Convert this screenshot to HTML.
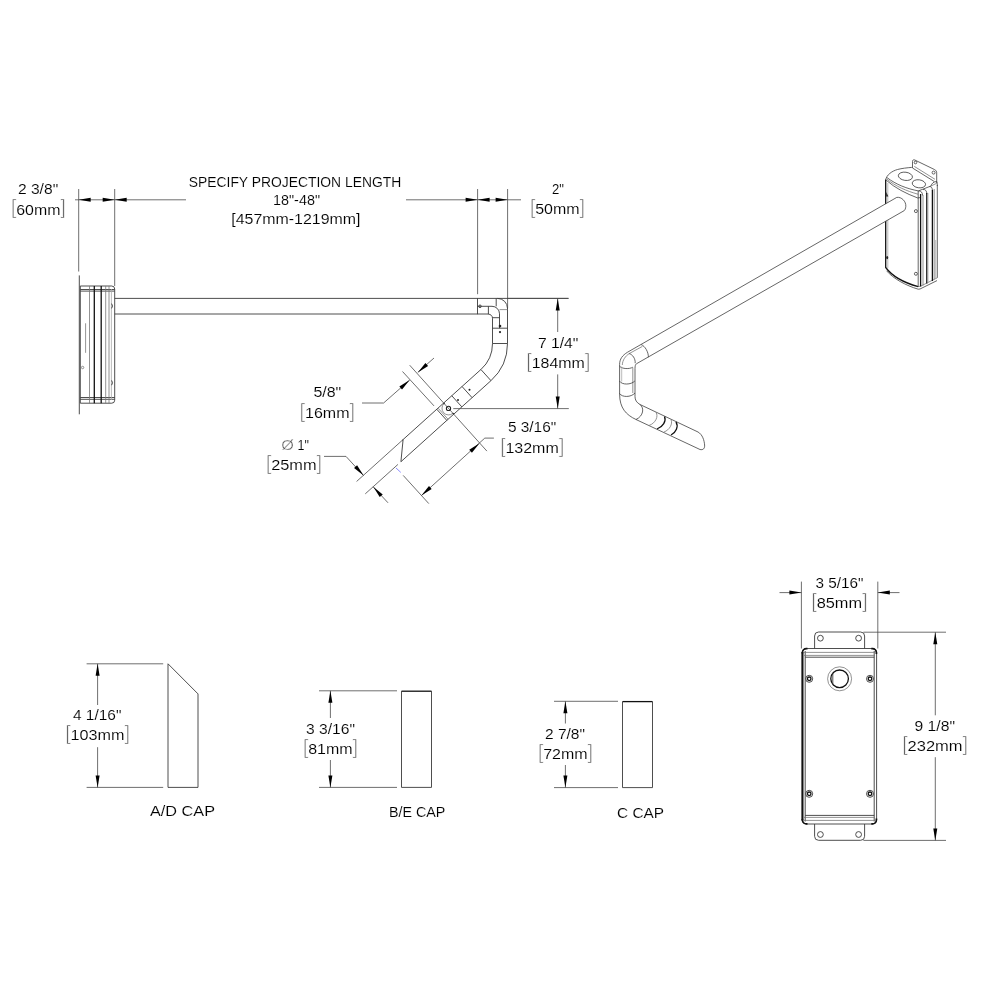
<!DOCTYPE html>
<html><head><meta charset="utf-8"><title>Drawing</title>
<style>
html,body{margin:0;padding:0;background:#fff;}
svg{display:block;will-change:transform}
.t{font-family:"Liberation Sans",sans-serif;fill:#000;stroke:#fff;stroke-width:.12}
.b{font-family:"Liberation Sans",sans-serif;fill:#555;stroke:#fff;stroke-width:.7}
.d{stroke:#4a4a4a;stroke-width:.8;fill:none}
.o{stroke:#3a3a3a;stroke-width:.9;fill:none}
.io{stroke:#333;stroke-width:.75;fill:none}
.iof{stroke:#333;stroke-width:.75;fill:#fff}
.g{stroke:#777;stroke-width:.8;fill:none}
.l{stroke:#aaa;stroke-width:.8;fill:none}
.k{stroke:#111;stroke-width:1.3;fill:none}
.kc{stroke:#111;stroke-width:1.7;fill:none}
.kk{stroke:#111;stroke-width:2;fill:none}
.a{fill:#000;stroke:none}
</style></head><body>
<svg width="1000" height="1000" viewBox="0 0 1000 1000">
<rect width="1000" height="1000" fill="#fff"/>
<g>
<text class="t" x="17.90" y="193.90" font-size="15" textLength="40.30" lengthAdjust="spacingAndGlyphs">2 3/8"</text>
<text class="b" x="10.80" y="214.40" font-size="20.5">[</text>
<text class="t" x="16.20" y="214.50" font-size="15" textLength="44.20" lengthAdjust="spacingAndGlyphs">60mm</text>
<text class="b" x="66.00" y="214.40" font-size="20.5" text-anchor="end">]</text>
<text class="t" x="188.75" y="187.00" font-size="15" textLength="212.50" lengthAdjust="spacingAndGlyphs">SPECIFY PROJECTION LENGTH</text>
<text class="t" x="273.00" y="205.40" font-size="15" textLength="47.00" lengthAdjust="spacingAndGlyphs">18"-48"</text>
<text class="t" x="231.25" y="223.70" font-size="15" textLength="129.25" lengthAdjust="spacingAndGlyphs">[457mm-1219mm]</text>
<text class="t" x="552.00" y="194.00" font-size="15" textLength="12.00" lengthAdjust="spacingAndGlyphs">2"</text>
<text class="b" x="529.80" y="214.30" font-size="20.5">[</text>
<text class="t" x="535.20" y="214.40" font-size="15" textLength="44.40" lengthAdjust="spacingAndGlyphs">50mm</text>
<text class="b" x="585.20" y="214.30" font-size="20.5" text-anchor="end">]</text>
<text class="t" x="537.90" y="348.30" font-size="15" textLength="40.50" lengthAdjust="spacingAndGlyphs">7 1/4"</text>
<text class="b" x="526.30" y="368.00" font-size="20.5">[</text>
<text class="t" x="531.70" y="368.10" font-size="15" textLength="53.10" lengthAdjust="spacingAndGlyphs">184mm</text>
<text class="b" x="590.40" y="368.00" font-size="20.5" text-anchor="end">]</text>
<text class="t" x="507.90" y="432.20" font-size="15" textLength="48.30" lengthAdjust="spacingAndGlyphs">5 3/16"</text>
<text class="b" x="500.00" y="453.10" font-size="20.5">[</text>
<text class="t" x="505.40" y="453.20" font-size="15" textLength="53.40" lengthAdjust="spacingAndGlyphs">132mm</text>
<text class="b" x="564.40" y="453.10" font-size="20.5" text-anchor="end">]</text>
<text class="t" x="313.40" y="396.70" font-size="15" textLength="27.90" lengthAdjust="spacingAndGlyphs">5/8"</text>
<text class="b" x="299.60" y="417.70" font-size="20.5">[</text>
<text class="t" x="305.00" y="417.80" font-size="15" textLength="44.50" lengthAdjust="spacingAndGlyphs">16mm</text>
<text class="b" x="355.10" y="417.70" font-size="20.5" text-anchor="end">]</text>
<text class="b" x="281.3" y="450" font-size="15" style="stroke-width:.35" textLength="12.6" lengthAdjust="spacingAndGlyphs">Ø</text>
<text class="t" x="297.60" y="450.00" font-size="15" textLength="11.40" lengthAdjust="spacingAndGlyphs">1"</text>
<text class="b" x="265.80" y="469.90" font-size="20.5">[</text>
<text class="t" x="271.20" y="470.00" font-size="15" textLength="45.40" lengthAdjust="spacingAndGlyphs">25mm</text>
<text class="b" x="322.20" y="469.90" font-size="20.5" text-anchor="end">]</text>
<text class="t" x="73.00" y="720.30" font-size="15" textLength="48.40" lengthAdjust="spacingAndGlyphs">4 1/16"</text>
<text class="b" x="65.20" y="740.00" font-size="20.5">[</text>
<text class="t" x="70.60" y="740.10" font-size="15" textLength="54.00" lengthAdjust="spacingAndGlyphs">103mm</text>
<text class="b" x="130.20" y="740.00" font-size="20.5" text-anchor="end">]</text>
<text class="t" x="150.00" y="816.00" font-size="15" textLength="65.00" lengthAdjust="spacingAndGlyphs">A/D CAP</text>
<text class="t" x="306.00" y="733.80" font-size="15" textLength="49.00" lengthAdjust="spacingAndGlyphs">3 3/16"</text>
<text class="b" x="302.80" y="753.80" font-size="20.5">[</text>
<text class="t" x="308.20" y="753.90" font-size="15" textLength="44.40" lengthAdjust="spacingAndGlyphs">81mm</text>
<text class="b" x="358.20" y="753.80" font-size="20.5" text-anchor="end">]</text>
<text class="t" x="389.00" y="816.50" font-size="15" textLength="56.40" lengthAdjust="spacingAndGlyphs">B/E CAP</text>
<text class="t" x="545.00" y="738.80" font-size="15" textLength="40.00" lengthAdjust="spacingAndGlyphs">2 7/8"</text>
<text class="b" x="537.80" y="759.30" font-size="20.5">[</text>
<text class="t" x="543.20" y="759.40" font-size="15" textLength="44.40" lengthAdjust="spacingAndGlyphs">72mm</text>
<text class="b" x="593.20" y="759.30" font-size="20.5" text-anchor="end">]</text>
<text class="t" x="617.00" y="817.90" font-size="15" textLength="47.00" lengthAdjust="spacingAndGlyphs">C CAP</text>
<text class="t" x="815.50" y="587.60" font-size="15" textLength="48.00" lengthAdjust="spacingAndGlyphs">3 5/16"</text>
<text class="b" x="811.30" y="607.90" font-size="20.5">[</text>
<text class="t" x="816.70" y="608.00" font-size="15" textLength="45.40" lengthAdjust="spacingAndGlyphs">85mm</text>
<text class="b" x="867.70" y="607.90" font-size="20.5" text-anchor="end">]</text>
<text class="t" x="914.50" y="731.10" font-size="15" textLength="40.50" lengthAdjust="spacingAndGlyphs">9 1/8"</text>
<text class="b" x="902.20" y="751.30" font-size="20.5">[</text>
<text class="t" x="907.60" y="751.40" font-size="15" textLength="55.00" lengthAdjust="spacingAndGlyphs">232mm</text>
<text class="b" x="968.20" y="751.30" font-size="20.5" text-anchor="end">]</text>
</g>
<line class="d" x1="78.70" y1="189.00" x2="78.70" y2="271.50"/>
<line class="d" x1="114.70" y1="189.00" x2="114.70" y2="286.00"/>
<line class="d" x1="75.00" y1="199.80" x2="186.00" y2="199.80"/>
<line class="d" x1="406.00" y1="199.80" x2="521.00" y2="199.80"/>
<polygon class="a" points="78.70,199.80 90.70,197.80 90.70,201.80"/>
<polygon class="a" points="114.70,199.80 102.70,201.80 102.70,197.80"/>
<polygon class="a" points="114.70,199.80 126.70,197.80 126.70,201.80"/>
<polygon class="a" points="477.60,199.80 465.60,201.80 465.60,197.80"/>
<polygon class="a" points="477.60,199.80 489.60,197.80 489.60,201.80"/>
<polygon class="a" points="507.60,199.80 495.60,201.80 495.60,197.80"/>
<line class="d" x1="477.60" y1="189.00" x2="477.60" y2="294.20"/>
<line class="d" x1="507.60" y1="189.00" x2="507.60" y2="308.00"/>
<line class="o" x1="79.30" y1="275.40" x2="79.30" y2="414.30"/>
<path class="o" d="M80.3,403.2 V286 H111.7 A3,3 0 0 1 114.7,289 V400.2 A3,3 0 0 1 111.7,403.2 Z"/>
<line class="o" x1="80.30" y1="289.50" x2="114.70" y2="289.50"/>
<line class="o" x1="80.30" y1="291.10" x2="114.70" y2="291.10"/>
<line class="o" x1="80.30" y1="397.50" x2="114.70" y2="397.50"/>
<line class="o" x1="80.30" y1="399.30" x2="114.70" y2="399.30"/>
<line class="g" x1="89.50" y1="286.00" x2="89.50" y2="403.20"/>
<line class="k" x1="94.30" y1="286.00" x2="94.30" y2="403.20"/>
<line class="k" x1="101.20" y1="286.00" x2="101.20" y2="403.20"/>
<line class="g" x1="105.70" y1="286.00" x2="105.70" y2="403.20"/>
<line class="g" x1="109.00" y1="286.00" x2="109.00" y2="403.20"/>
<line class="l" x1="111.40" y1="289.00" x2="111.40" y2="400.00"/>
<line class="g" x1="85.60" y1="323.30" x2="85.60" y2="352.80"/>
<circle class="g" cx="82.60" cy="367.50" r="1.20"/>
<path class="o" d="M111.6,303.6 Q113.4,306 111.6,308.4"/>
<path class="o" d="M111.6,380.4 Q113.4,382.8 111.6,385.2"/>
<line class="o" x1="114.70" y1="298.40" x2="568.50" y2="298.40"/>
<line class="o" x1="114.70" y1="314.00" x2="488.40" y2="314.00"/>
<line class="o" x1="477.50" y1="298.40" x2="477.50" y2="314.20"/>
<path class="o" d="M497.4,298.4 A10,10 0 0 1 507.5,308.4"/>
<line class="o" x1="496.20" y1="298.40" x2="496.20" y2="306.30"/>
<path class="o" d="M477.5,306.3 H492 A7.5,7.5 0 0 1 499.5,313.8 V328.2"/>
<line class="o" x1="488.40" y1="306.30" x2="488.40" y2="314.20"/>
<path class="o" d="M488.4,314.2 A4,4 0 0 1 492.5,318.2 V343.5"/>
<line class="o" x1="507.50" y1="308.00" x2="507.50" y2="343.50"/>
<line class="g" x1="499.50" y1="309.60" x2="507.50" y2="309.60"/>
<line class="o" x1="492.50" y1="317.70" x2="499.50" y2="317.70"/>
<line class="o" x1="492.50" y1="328.20" x2="507.50" y2="328.20"/>
<line class="o" x1="492.50" y1="343.50" x2="507.50" y2="343.50"/>
<circle class="o" cx="480.00" cy="306.30" r="1.30"/>
<circle cx="500" cy="326.1" r="1.3" fill="#222"/>
<circle cx="500" cy="332.1" r="1.1" fill="#222"/>
<path class="o" d="M492.5,343.5 A35,35 0 0 1 480.92,369.51"/>
<path class="o" d="M507.5,343.5 A50,50 0 0 1 490.96,380.66"/>
<line class="o" x1="480.92" y1="369.51" x2="490.96" y2="380.66"/>
<line class="o" x1="462.04" y1="386.51" x2="472.08" y2="397.65"/>
<line class="o" x1="451.79" y1="395.74" x2="461.83" y2="406.89"/>
<line class="o" x1="480.92" y1="369.51" x2="402.28" y2="440.31"/>
<line class="d" x1="402.28" y1="440.31" x2="356.58" y2="481.47"/>
<line class="o" x1="490.96" y1="380.66" x2="400.92" y2="461.73"/>
<line class="d" x1="397.94" y1="464.41" x2="365.25" y2="493.85"/>
<path class="o" d="M402.28,440.31 L403.08,439.71 L400.92,461.73"/>
<line x1="396" y1="468" x2="400.8" y2="472.4" stroke="#8c8cff" stroke-width="1"/>
<circle cx="469.5" cy="389.8" r="1.0" fill="#222"/>
<circle cx="458" cy="400" r="1.0" fill="#222"/>
<circle cx="448.5" cy="408.4" r="2.1" fill="#fff" stroke="#222" stroke-width="1.1"/>
<path class="g" d="M444.08,403.50 A6.6,6.6 0 0 0 452.92,413.30"/>
<line class="o" x1="436.77" y1="409.27" x2="446.80" y2="420.41"/>
<line class="g" x1="438.03" y1="408.13" x2="448.07" y2="419.28"/>
<line class="k" x1="443.68" y1="403.04" x2="444.48" y2="403.94"/>
<line class="k" x1="452.91" y1="413.30" x2="453.71" y2="414.19"/>
<line class="d" x1="507.50" y1="298.40" x2="568.50" y2="298.40"/>
<line class="d" x1="453.30" y1="408.60" x2="568.80" y2="408.60"/>
<line class="d" x1="557.70" y1="298.40" x2="557.70" y2="332.00"/>
<line class="d" x1="557.70" y1="374.40" x2="557.70" y2="408.60"/>
<polygon class="a" points="557.70,298.40 559.70,310.40 555.70,310.40"/>
<polygon class="a" points="557.70,408.60 555.70,396.60 559.70,396.60"/>
<line class="d" x1="409.70" y1="365.20" x2="486.90" y2="451.10"/>
<line class="d" x1="402.50" y1="371.50" x2="434.00" y2="405.90"/>
<line class="d" x1="362.00" y1="403.00" x2="383.60" y2="403.00"/>
<line class="d" x1="383.60" y1="403.00" x2="409.70" y2="380.00"/>
<polygon class="a" points="409.70,380.00 402.02,389.43 399.37,386.43"/>
<line class="d" x1="434.00" y1="358.00" x2="417.80" y2="372.40"/>
<polygon class="a" points="417.80,372.40 425.44,362.93 428.10,365.92"/>
<line class="d" x1="324.00" y1="456.40" x2="346.00" y2="456.40"/>
<line class="d" x1="346.00" y1="456.40" x2="363.60" y2="475.60"/>
<polygon class="a" points="363.60,475.60 354.08,468.02 357.06,465.34"/>
<line class="d" x1="388.00" y1="502.80" x2="373.20" y2="486.80"/>
<polygon class="a" points="373.20,486.80 382.72,494.38 379.74,497.06"/>
<line class="d" x1="403.20" y1="475.40" x2="428.80" y2="503.60"/>
<line class="d" x1="421.40" y1="495.60" x2="484.80" y2="438.10"/>
<line class="d" x1="484.80" y1="438.10" x2="493.90" y2="438.10"/>
<polygon class="a" points="421.40,495.60 428.98,486.08 431.66,489.06"/>
<polygon class="a" points="479.50,443.30 471.92,452.82 469.24,449.84"/>
<line class="d" x1="86.60" y1="663.80" x2="163.20" y2="663.80"/>
<line class="d" x1="86.60" y1="787.40" x2="163.20" y2="787.40"/>
<line class="d" x1="97.60" y1="663.80" x2="97.60" y2="705.00"/>
<line class="d" x1="97.60" y1="747.20" x2="97.60" y2="787.40"/>
<polygon class="a" points="97.60,663.80 99.60,675.80 95.60,675.80"/>
<polygon class="a" points="97.60,787.40 95.60,775.40 99.60,775.40"/>
<path class="o" d="M168,663.8 L198,693.9 V787.4 H168 Z"/>
<line class="d" x1="319.00" y1="690.80" x2="397.00" y2="690.80"/>
<line class="d" x1="319.00" y1="787.40" x2="397.00" y2="787.40"/>
<line class="d" x1="330.40" y1="690.80" x2="330.40" y2="718.00"/>
<line class="d" x1="330.40" y1="760.00" x2="330.40" y2="787.40"/>
<polygon class="a" points="330.40,690.80 332.40,702.80 328.40,702.80"/>
<polygon class="a" points="330.40,787.40 328.40,775.40 332.40,775.40"/>
<path class="o" d="M401.5,691.2 V787.4 H431.5 V691.2"/>
<line class="k" x1="401.50" y1="691.20" x2="431.50" y2="691.20"/>
<line class="d" x1="554.00" y1="701.30" x2="618.00" y2="701.30"/>
<line class="d" x1="554.00" y1="787.60" x2="618.00" y2="787.60"/>
<line class="d" x1="565.40" y1="701.30" x2="565.40" y2="723.50"/>
<line class="d" x1="565.40" y1="765.00" x2="565.40" y2="787.60"/>
<polygon class="a" points="565.40,701.30 567.40,713.30 563.40,713.30"/>
<polygon class="a" points="565.40,787.60 563.40,775.60 567.40,775.60"/>
<path class="o" d="M622.5,701.6 V787.6 H652.5 V701.6"/>
<line class="k" x1="622.50" y1="701.60" x2="652.50" y2="701.60"/>
<line class="d" x1="801.40" y1="581.60" x2="801.40" y2="648.50"/>
<line class="d" x1="877.80" y1="581.60" x2="877.80" y2="648.50"/>
<line class="d" x1="779.50" y1="592.60" x2="801.40" y2="592.60"/>
<line class="d" x1="877.80" y1="592.60" x2="899.50" y2="592.60"/>
<polygon class="a" points="801.40,592.60 789.40,594.60 789.40,590.60"/>
<polygon class="a" points="877.80,592.60 889.80,590.60 889.80,594.60"/>
<path class="o" d="M814.6,648.5 V636 A4,4 0 0 1 818.6,632 H860.6 A4,4 0 0 1 864.6,636 V648.5"/>
<path class="o" d="M814.6,824 V836.3 A4,4 0 0 0 818.6,840.3 H860.6 A4,4 0 0 0 864.6,836.3 V824"/>
<circle class="o" cx="820.40" cy="638.20" r="2.90"/>
<circle class="o" cx="858.60" cy="638.20" r="2.90"/>
<circle class="o" cx="820.40" cy="834.50" r="2.90"/>
<circle class="o" cx="858.60" cy="834.50" r="2.90"/>
<path class="o" d="M806.2,648.5 H872.6 A4,4 0 0 1 876.6,652.5 V820 A4,4 0 0 1 872.6,824 H806.2 A4,4 0 0 1 802.2,820 V652.5 A4,4 0 0 1 806.2,648.5 Z"/>
<path class="kk" d="M802.5,652 V820.5"/>
<path class="kc" d="M802.4,653.5 V652.5 A4,4 0 0 1 806.4,648.6 H807.5"/>
<path class="kc" d="M871.3,648.6 H872.4 A4,4 0 0 1 876.4,652.6 V654"/>
<path class="kc" d="M802.4,819 V820 A4,4 0 0 0 806.4,823.9 H807.5"/>
<path class="kc" d="M871.3,823.9 H872.4 A4,4 0 0 0 876.4,819.9 V818.5"/>
<line class="o" x1="805.20" y1="651.00" x2="805.20" y2="821.50"/>
<line class="o" x1="874.20" y1="651.00" x2="874.20" y2="821.50"/>
<line class="g" x1="804.00" y1="652.40" x2="875.00" y2="652.40"/>
<line class="g" x1="804.00" y1="655.40" x2="875.00" y2="655.40"/>
<line class="o" x1="805.20" y1="657.20" x2="874.20" y2="657.20"/>
<line class="o" x1="805.20" y1="815.40" x2="874.20" y2="815.40"/>
<line class="g" x1="804.00" y1="817.40" x2="875.00" y2="817.40"/>
<line class="g" x1="804.00" y1="820.40" x2="875.00" y2="820.40"/>
<circle class="g" cx="839.60" cy="678.80" r="12.00"/>
<circle class="k" cx="839.60" cy="678.80" r="8.80"/>
<line class="o" x1="832.80" y1="673.00" x2="832.80" y2="684.60"/>
<circle class="o" cx="809.20" cy="678.80" r="3.50"/>
<circle class="k" cx="809.20" cy="678.80" r="1.80"/>
<circle class="o" cx="870.00" cy="678.80" r="3.50"/>
<circle class="k" cx="870.00" cy="678.80" r="1.80"/>
<circle class="o" cx="809.20" cy="793.80" r="3.50"/>
<circle class="k" cx="809.20" cy="793.80" r="1.80"/>
<circle class="o" cx="870.00" cy="793.80" r="3.50"/>
<circle class="k" cx="870.00" cy="793.80" r="1.80"/>
<line class="d" x1="863.40" y1="632.20" x2="946.00" y2="632.20"/>
<line class="d" x1="863.40" y1="840.40" x2="946.00" y2="840.40"/>
<line class="d" x1="935.30" y1="632.20" x2="935.30" y2="715.30"/>
<line class="d" x1="935.30" y1="757.20" x2="935.30" y2="840.40"/>
<polygon class="a" points="935.30,632.20 937.30,644.20 933.30,644.20"/>
<polygon class="a" points="935.30,840.40 933.30,828.40 937.30,828.40"/>
<path class="k" d="M885.7,179.5 V267.5 C892,276 905,283 918.2,286.6"/>
<path class="io" d="M886.6,270.8 C893,278.5 906,285.6 918.2,289.2 L920,289 L937,280.6"/>
<path class="g" d="M918.2,286.6 L920.6,286.2 L937.2,277.8"/>
<line class="l" x1="887.8" y1="183" x2="887.8" y2="268"/>
<path class="io" d="M885.7,179.8 C886.5,175 892,171 897.5,169.5 C902,168.3 907,167.8 911.8,167.4"/>
<path class="io" d="M886.2,180.2 C895,188 906,193.6 917.8,198 L920,197.6"/>
<path class="io" d="M887,177.6 C896,184.5 907,188.8 918.4,190.9"/>
<path class="g" d="M886.6,178.9 C895.5,186.3 906.5,191 918,194.2"/>
<path class="io" d="M912.5,168 V161.6 C912.5,159.8 913.6,159.4 915,160.1 L934.6,169.6 C936.2,170.4 936.7,171.4 936.7,172.8 V183"/>
<path class="io" d="M912.5,168 L934.3,181.5"/>
<path class="g" d="M914.3,166.4 L935,179.3"/>
<circle class="io" cx="915.5" cy="162.5" r="1.3"/>
<circle class="io" cx="933.6" cy="172.6" r="1.5"/>
<path class="io" d="M918.4,190.9 C921,190.6 922.5,192.5 922.6,195.5"/>
<path class="io" d="M923,189.5 C925.5,189.2 926.8,191 926.9,194"/>
<path class="io" d="M929.5,186.6 C931.5,186.4 932.4,188 932.4,190.5"/>
<path class="io" d="M918.4,190.9 L931,186 C931.5,183.5 934,181.3 936.8,181.6 C937.4,182.6 937.3,184.5 937.3,186"/>
<path class="g" d="M931,186 L936.9,183.2"/>
<line class="io" x1="918.2" y1="191" x2="918.2" y2="287"/>
<line class="k" x1="920.6" y1="194" x2="920.6" y2="286.5"/>
<line class="g" x1="923" y1="195" x2="923" y2="285.5"/>
<line class="k" x1="926.8" y1="193" x2="926.8" y2="283.5"/>
<line class="l" x1="928" y1="193" x2="928" y2="283"/>
<line class="k" x1="932.4" y1="190" x2="932.4" y2="281"/>
<line class="g" x1="934.2" y1="189" x2="934.2" y2="279.5"/>
<line class="io" x1="937.3" y1="185" x2="937.3" y2="277.8"/>
<line class="l" x1="935.7" y1="240" x2="935.7" y2="279"/>
<ellipse class="io" cx="905.4" cy="176.3" rx="7.1" ry="4.1" transform="rotate(8 905.4 176.3)"/>
<ellipse class="io" cx="918.9" cy="183.8" rx="6.7" ry="4.0" transform="rotate(8 918.9 183.8)"/>
<circle class="io" cx="915.9" cy="211.1" r="1.5"/>
<circle class="io" cx="915.9" cy="273.8" r="1.5"/>
<path d="M886.2,192 L888.3,196.5 L886.2,196.5 Z" fill="#222"/>
<ellipse cx="887.2" cy="257.6" rx="1" ry="1.6" fill="#222"/>
<path class="iof" d="M896.75,197.4 L627.4,352.3 C622.5,355.3 619.6,359 619.6,364.5 V394 C619.6,408 626,414.8 636,419.5 L700,449.5 C703,450.3 705,448.5 704.6,445 C704.3,440.5 702.5,434.5 698,432 L640,404.5 C636.5,402.5 635,400 635,396.5 V368.6 C635,366 635.4,364.6 636.4,363.8 L904.25,210.6"/>
<path class="io" d="M896.75,197.4 C901.5,196.6 906.3,201.5 905.8,206.5 C905.6,208.4 905.1,209.8 904.25,210.6"/>
<path class="io" d="M641.2,344.6 C645,346 648.5,352 648.4,357.2"/>
<path class="g" d="M642.4,346.4 L629.2,353.6 C625.5,356 622.5,360 622.3,365"/>
<path class="io" d="M629.2,353.6 C632.5,354.5 635.5,358.5 635.2,363.2"/>
<path class="io" d="M619.6,366.2 C622,369 629.5,369.3 632.8,367.2"/>
<line class="g" x1="632.8" y1="367.5" x2="632.8" y2="393"/>
<line class="l" x1="621.7" y1="366.5" x2="621.7" y2="381.5"/>
<path class="io" d="M619.6,381.2 C622,385 631,385 634.8,381"/>
<path class="io" d="M619.6,393.5 C622,397.5 631,397.5 635,393"/>
<path class="io" d="M640,404.5 C644.5,408 643.5,416 636,419.5"/>
<path class="g" d="M656,412.5 C658.5,416 656,423 649,425.5"/>
<path class="k" d="M664.5,416.5 C666.5,421 663,427 657,429"/>
<path class="g" d="M671,419.5 C673,424 669.5,430 664,432"/>
<path class="k" d="M676,421.8 C678.8,426.5 676,432.5 671,435"/>
<!--ISO-->
</svg>
</body></html>
